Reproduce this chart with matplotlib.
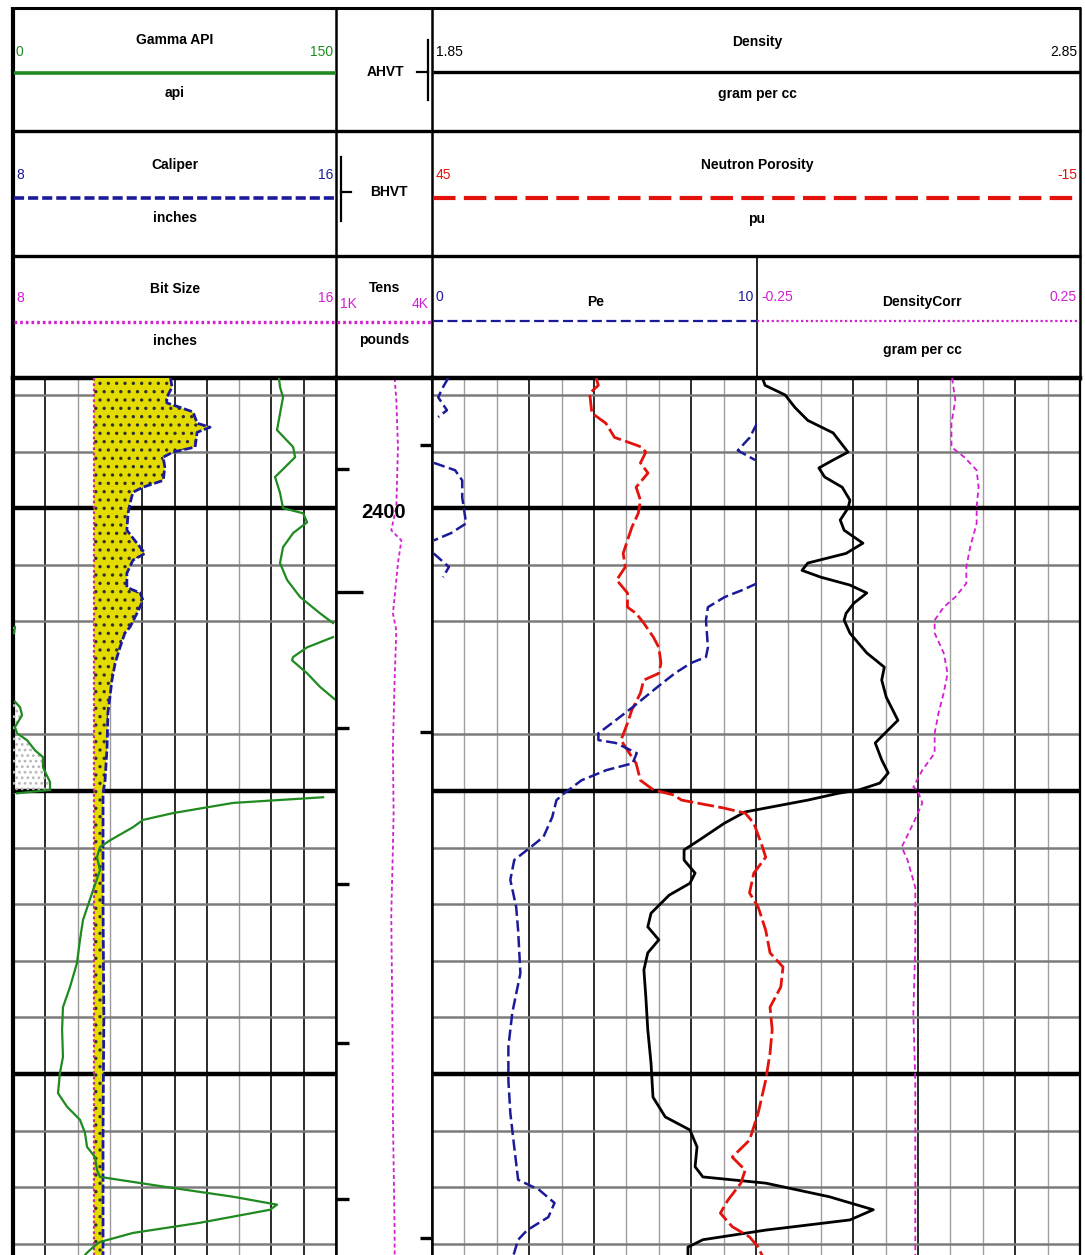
import numpy as np
import matplotlib
matplotlib.use("Agg")
import matplotlib.pyplot as plt

plt.rcParams['font.family'] = ['Liberation Sans Narrow', 'Liberation Sans', 'DejaVu Sans']
plt.rcParams['hatch.linewidth'] = 1.2

# ---------------- data (depth in ft) ----------------
gr_depth = [2377.0, 2378.6, 2380.4, 2386.2, 2389.2, 2391.0, 2394.5, 2397.3, 2400.0, 2400.9,
            2402.5, 2404.4, 2406.9, 2409.7, 2412.7, 2415.7, 2418.6, 2420.3, 2421.0, 2422.1,
            2422.8, 2424.6, 2426.3, 2426.9, 2429.2, 2431.6, 2433.9, 2434.2, 2435.2, 2436.6,
            2438.7, 2439.8, 2441.0, 2442.8, 2444.0, 2445.8, 2448.4, 2449.8, 2450.4, 2451.1,
            2452.1, 2453.9, 2455.1, 2456.4, 2458.7, 2459.9, 2461.7, 2464.0, 2467.5, 2472.8,
            2476.3, 2480.4, 2484.6, 2488.2, 2492.2, 2497.0, 2499.8, 2503.4, 2505.8, 2508.1,
            2510.4, 2512.9, 2514.7, 2517.0, 2518.2, 2520.0, 2521.7, 2523.1, 2524.0, 2526.3,
            2528.1, 2529.7, 2530.6, 2531.6, 2532.2]
gr_api = [123.5, 124.0, 125.4, 122.6, 130.1, 131.0, 121.7, 124.0, 125.4, 134.7,
          136.6, 130.1, 125.4, 124.0, 127.3, 133.3, 142.6, 148.6, 150.9, 150.5,
          148.6, 136.6, 130.1, 129.6, 136.6, 142.6, 149.8, 150.9, 153.3, 154.2,
          150.9, 151.9, 156.5, 160.2, 163.9, 163.9, 167.2, 167.2, 151.9, 144.0,
          102.2, 74.3, 60.4, 55.7, 45.1, 40.4, 39.0, 40.4, 37.2, 32.5,
          31.1, 29.7, 26.5, 23.2, 22.8, 23.2, 21.8, 20.9, 25.1, 31.1,
          33.4, 34.4, 38.1, 39.0, 40.4, 71.5, 102.2, 122.6, 119.4, 86.9,
          55.7, 40.4, 37.2, 34.4, 33.0]

cal_depth = [2377.0, 2378.6, 2380.4, 2381.4, 2382.2, 2383.0, 2385.0, 2385.7, 2386.6, 2389.2,
             2390.1, 2391.0, 2392.8, 2395.1, 2396.3, 2397.2, 2399.1, 2400.9, 2403.9, 2406.2,
             2408.0, 2409.2, 2411.5, 2414.0, 2415.0, 2416.3, 2418.6, 2421.0, 2422.1, 2424.6,
             2427.4, 2430.4, 2433.4, 2436.2, 2442.2, 2448.1, 2450.4, 2470.0, 2490.0, 2510.0,
             2532.2]
cal_in = [11.90, 11.94, 11.81, 11.81, 12.14, 12.46, 12.56, 12.88, 12.56, 12.51,
          11.96, 11.72, 11.76, 11.72, 11.22, 10.97, 10.90, 10.85, 10.82, 11.07,
          11.27, 10.97, 10.82, 10.82, 11.15, 11.22, 11.07, 10.90, 10.77, 10.65,
          10.53, 10.45, 10.40, 10.35, 10.33, 10.28, 10.23, 10.23, 10.25, 10.23,
          10.23]

bit_depth = [2377.0, 2532.2]
bit_in = [10.0, 10.0]

tens_depth = [2377.0, 2380.9, 2389.2, 2399.8, 2403.9, 2405.7, 2409.7, 2415.7, 2418.6, 2421.6,
              2430.4, 2442.2, 2453.9, 2460.1, 2471.9, 2489.6, 2507.2, 2527.9, 2532.2]
tens_lb = [2832, 2885, 2936, 2885, 2727, 3043, 2936, 2832, 2778, 2885,
           2832, 2778, 2800, 2778, 2727, 2760, 2778, 2832, 2832]

rhob_depth = [2377.0, 2378.3, 2380.0, 2382.2, 2384.5, 2386.7, 2390.1, 2391.5, 2392.9, 2394.5,
              2396.3, 2398.6, 2400.0, 2402.1, 2403.9, 2406.2, 2408.0, 2409.7, 2411.0, 2412.2,
              2413.6, 2415.0, 2416.8, 2418.6, 2419.8, 2422.1, 2425.6, 2428.1, 2430.4, 2433.4,
              2437.5, 2439.2, 2441.5, 2444.5, 2446.8, 2448.6, 2449.8, 2450.4, 2451.6, 2453.7,
              2455.7, 2458.7, 2460.4, 2462.2, 2464.5, 2466.3, 2468.4, 2471.6, 2474.0, 2476.3,
              2478.6, 2481.6, 2486.4, 2492.2, 2498.1, 2504.1, 2507.6, 2509.9, 2512.9, 2516.4,
              2518.2, 2519.3, 2521.7, 2524.0, 2525.8, 2527.6, 2529.3, 2530.6, 2532.2]
rhob_gcc = [2.360, 2.364, 2.395, 2.410, 2.430, 2.469, 2.492, 2.469, 2.447, 2.456,
            2.483, 2.495, 2.492, 2.480, 2.486, 2.515, 2.489, 2.430, 2.421, 2.450,
            2.495, 2.521, 2.501, 2.489, 2.486, 2.495, 2.521, 2.548, 2.544, 2.551,
            2.569, 2.554, 2.534, 2.544, 2.554, 2.541, 2.509, 2.477, 2.430, 2.333,
            2.301, 2.262, 2.239, 2.239, 2.256, 2.248, 2.216, 2.188, 2.183, 2.200,
            2.183, 2.177, 2.180, 2.183, 2.188, 2.191, 2.210, 2.248, 2.259, 2.256,
            2.268, 2.365, 2.463, 2.531, 2.495, 2.365, 2.268, 2.245, 2.245]

nphi_depth = [2377.0, 2378.3, 2379.7, 2383.2, 2385.0, 2387.5, 2388.3, 2389.2, 2390.1, 2392.0,
              2393.8, 2396.3, 2398.6, 2400.9, 2403.4, 2405.7, 2408.0, 2410.4, 2412.7, 2415.0,
              2417.5, 2418.6, 2420.3, 2422.8, 2424.6, 2427.4, 2429.2, 2430.4, 2432.7, 2435.7,
              2438.0, 2441.0, 2442.8, 2445.1, 2448.1, 2449.8, 2450.7, 2451.6, 2453.0, 2453.9,
              2455.7, 2459.9, 2461.7, 2464.5, 2468.0, 2470.5, 2474.6, 2478.6, 2481.1, 2484.6,
              2488.2, 2492.2, 2496.3, 2501.1, 2506.9, 2511.7, 2514.7, 2517.0, 2519.3, 2522.3,
              2524.6, 2527.0, 2528.8, 2530.6, 2532.2]
nphi_pu = [29.8, 29.6, 30.4, 30.2, 28.9, 28.1, 26.9, 25.6, 25.2, 25.7,
           25.0, 26.1, 25.7, 25.9, 26.5, 26.9, 27.3, 27.1, 27.9, 26.9,
           26.9, 26.1, 25.4, 24.5, 24.0, 23.8, 24.0, 25.4, 25.7, 26.5,
           26.9, 27.5, 26.9, 26.1, 25.7, 24.5, 22.6, 21.9, 18.0, 16.0,
           15.2, 14.4, 14.1, 15.2, 15.6, 14.8, 14.1, 13.7, 12.5, 12.7,
           13.7, 13.5, 13.7, 14.1, 14.8, 15.6, 17.2, 16.0, 16.4, 17.6,
           18.3, 17.2, 15.6, 14.8, 14.4]

pe_depth = [2377.0, 2378.6, 2380.4, 2382.7, 2383.9, 2385.0, 2387.5, 2389.8, 2391.5, 2392.0,
            2393.3, 2395.1, 2398.1, 2402.7, 2404.4, 2405.7, 2406.5, 2408.0, 2410.4, 2412.2,
            2413.3, 2414.5, 2415.7, 2417.5, 2419.8, 2424.6, 2426.3, 2427.4, 2429.2, 2431.6,
            2435.2, 2437.5, 2439.8, 2441.0, 2441.5, 2443.3, 2445.1, 2446.3, 2448.1, 2450.4,
            2451.6, 2454.6, 2458.1, 2460.4, 2462.2, 2465.7, 2470.5, 2474.6, 2482.2, 2489.2,
            2495.2, 2501.1, 2506.9, 2512.9, 2518.7, 2520.5, 2522.8, 2525.3, 2527.6, 2529.3,
            2531.6, 2532.2]
pe_val = [10.50, 10.34, 10.19, 10.46, 10.19, 10.00, 9.78, 9.41, 9.94, 10.06,
          10.71, 10.93, 10.93, 11.05, 10.59, 10.06, 9.95, 10.05, 10.52, 10.34,
          10.00, 9.54, 9.01, 8.49, 8.43, 8.49, 8.43, 7.96, 7.47, 6.94,
          6.17, 5.65, 5.12, 5.12, 5.65, 6.30, 6.17, 5.37, 4.60, 4.07,
          3.83, 3.70, 3.43, 2.93, 2.53, 2.41, 2.59, 2.65, 2.72, 2.47,
          2.35, 2.35, 2.41, 2.53, 2.65, 3.30, 3.77, 3.58, 2.93, 2.65,
          2.53, 2.50]

drho_depth = [2377.0, 2378.6, 2380.9, 2385.0, 2389.2, 2391.0, 2393.3, 2396.3, 2399.8, 2402.7,
              2406.9, 2410.4, 2413.3, 2415.7, 2417.5, 2419.8, 2422.1, 2425.6, 2429.2, 2432.7,
              2436.2, 2439.8, 2443.3, 2446.3, 2449.3, 2449.8, 2452.1, 2455.7, 2459.9, 2462.2,
              2467.0, 2477.6, 2489.2, 2501.1, 2512.9, 2524.6, 2532.2]
drho_gcc = [0.052, 0.054, 0.057, 0.051, 0.051, 0.071, 0.090, 0.093, 0.090, 0.090,
            0.080, 0.074, 0.074, 0.057, 0.039, 0.025, 0.025, 0.039, 0.045, 0.039,
            0.031, 0.025, 0.025, 0.006, -0.008, -0.002, 0.006, -0.008, -0.026, -0.017,
            -0.005, -0.005, -0.008, -0.005, -0.005, -0.005, -0.005]

bhvt_depths = [2393.1, 2414.8, 2438.9, 2466.4, 2494.5, 2522.1]
ahvt_depths = [2388.9, 2439.6, 2529.0]
depth_label = 2400
thick_grid = [2400, 2450, 2500]
thin_grid = [2380, 2390, 2410, 2420, 2440, 2460, 2470, 2480, 2490, 2510, 2520, 2530]

TOP_D, BOT_D = 2377.0, 2532.0

# ---------------- styling ----------------
GREEN = '#1f8a1f'
BLUE = '#1b1b9a'
RED = '#e3120b'
MAG = '#d21fd2'
YELLOW = '#e4dc00'

W, H = 1085, 1255
fig = plt.figure(figsize=(W / 100, H / 100), dpi=100)


def axes_px(x0, y0, x1, y1, **kw):
    return fig.add_axes([x0 / W, 1 - y1 / H, (x1 - x0) / W, (y1 - y0) / H], **kw)


# ---------------- header ----------------
axh = axes_px(0, 0, W, 380)
axh.set_xlim(0, W)
axh.set_ylim(380, 0)
axh.axis('off')

k = dict(color='black', solid_capstyle='butt', clip_on=False)
axh.plot([12, 1081], [8, 8], lw=2.2, **k)
for yy in (131, 256):
    axh.plot([12, 1081], [yy, yy], lw=2.4, **k)
axh.plot([13, 13], [7, 380], lw=3.0, **k)
axh.plot([336, 336], [8, 380], lw=1.8, **k)
axh.plot([432, 432], [8, 380], lw=1.8, **k)
axh.plot([1080, 1080], [8, 380], lw=1.8, **k)
axh.plot([757, 757], [256, 380], lw=1.2, **k)

FS_T = 10
FS_N = 10


def ht(x, y, s, color='black', ha='center', fs=FS_T, weight='bold'):
    axh.text(x, y, s, color=color, ha=ha, va='center', fontsize=fs, fontweight=weight)


def hn(x, y, s, color, ha):
    ht(x, y, s, color, ha, FS_N, 'normal')


# Track 1 header
ht(175, 40, 'Gamma API')
hn(16, 52, '0', GREEN, 'left')
hn(333, 52, '150', GREEN, 'right')
axh.plot([14, 336], [73, 73], color=GREEN, lw=2.6, solid_capstyle='butt')
ht(175, 93, 'api')

ht(175, 165, 'Caliper')
hn(16, 175, '8', BLUE, 'left')
hn(333, 175, '16', BLUE, 'right')
axh.plot([14, 336], [198, 198], color=BLUE, lw=2.6, dashes=(2.8, 1.1))
ht(175, 218, 'inches')

ht(175, 289, 'Bit Size')
hn(16, 298, '8', MAG, 'left')
hn(333, 298, '16', MAG, 'right')
axh.plot([14, 336], [322, 322], color=MAG, lw=2.4, dashes=(0.8, 0.9))
ht(175, 341, 'inches')

# Depth header
ht(385, 72, 'AHVT')
axh.plot([417, 428], [72, 72], color='black', lw=1.6)
axh.plot([428, 428], [40, 100], color='black', lw=1.6)
ht(389, 192, 'BHVT')
axh.plot([341, 341], [157, 221], color='black', lw=1.6)
axh.plot([341, 351], [192, 192], color='black', lw=1.6)
ht(385, 288, 'Tens')
hn(340, 304, '1K', MAG, 'left')
hn(429, 304, '4K', MAG, 'right')
axh.plot([337, 432], [322, 322], color=MAG, lw=2.4, dashes=(0.8, 0.9))
ht(384, 340, 'pounds')

# Track 2/3 header
ht(757, 42, 'Density')
hn(436, 52, '1.85', 'black', 'left')
hn(1077, 52, '2.85', 'black', 'right')
axh.plot([433, 1080], [72, 72], color='black', lw=2.4, solid_capstyle='butt')
ht(757, 94, 'gram per cc')

ht(757, 165, 'Neutron Porosity')
hn(436, 175, '45', RED, 'left')
hn(1077, 175, '-15', RED, 'right')
axh.plot([433, 1080], [198, 198], color=RED, lw=3.0, dashes=(5.4, 2.0))
ht(757, 219, 'pu')

ht(596, 302, 'Pe')
hn(436, 297, '0', BLUE, 'left')
hn(753, 297, '10', BLUE, 'right')
axh.plot([433, 757], [321, 321], color=BLUE, lw=1.6, dashes=(4.5, 2.0))
ht(922, 302, 'DensityCorr')
hn(761, 297, '-0.25', MAG, 'left')
hn(1077, 297, '0.25', MAG, 'right')
axh.plot([757, 1080], [321, 321], color=MAG, lw=1.6, dashes=(1.0, 1.2))
ht(922, 350, 'gram per cc')


# ---------------- data tracks ----------------
def style_track(ax, lw_left=1.8, lw_right=1.8):
    ax.set_ylim(BOT_D, TOP_D)
    ax.set_xticks([])
    ax.set_yticks([])
    ax.spines['bottom'].set_visible(False)
    ax.spines['top'].set_linewidth(3.2)
    ax.spines['left'].set_linewidth(lw_left)
    ax.spines['right'].set_linewidth(lw_right)
    for s in ax.spines.values():
        s.set_zorder(10)


def hgrid(ax):
    for d in thin_grid:
        ax.axhline(d, color='#7c7c7c', lw=1.8, zorder=1)
    for d in thick_grid:
        ax.axhline(d, color='black', lw=3.2, zorder=2)


# Track 1
ax1 = axes_px(13, 378, 336, 1255)
ax1.set_xlim(0, 150)
style_track(ax1, lw_left=3.0, lw_right=1.8)
dark1 = {1, 4, 5, 6, 8, 9}
for i, xv in enumerate(np.linspace(0, 150, 11)[1:-1], start=1):
    ax1.axvline(xv, color='#1a1a1a' if i in dark1 else '#9a9a9a',
                lw=1.3 if i in dark1 else 1.0, zorder=1)
hgrid(ax1)

axc = ax1.twiny()
axc.set_xlim(8, 16)
axc.set_ylim(BOT_D, TOP_D)
axc.axis('off')
cal = np.array(cal_in)
bit_at_cal = np.interp(cal_depth, bit_depth, bit_in)
axc.fill_betweenx(cal_depth, bit_at_cal, cal, where=cal >= bit_at_cal,
                  facecolor=YELLOW, edgecolor='none', lw=0, zorder=3)
axc.fill_betweenx(cal_depth, bit_at_cal, cal, where=cal >= bit_at_cal,
                  facecolor='none', edgecolor='#303030', hatch='..', lw=0, zorder=4)
axc.plot(bit_in, bit_depth, color='#c0308a', lw=1.6, dashes=(1.2, 1.2), zorder=5)
axc.plot(cal_in, cal_depth, color=BLUE, lw=2.0, dashes=(3.0, 1.0), zorder=6)

axg = ax1.twiny()
axg.set_xlim(0, 150)
axg.set_ylim(BOT_D, TOP_D)
axg.axis('off')
gr = np.array(gr_api)
gr_main = np.where(gr <= 150, gr, np.nan)
gr_wrap = np.where(gr > 150, gr - 150, np.nan)
wmask = ~np.isnan(gr_wrap)
axg.fill_betweenx(gr_depth, 0, np.nan_to_num(gr_wrap), where=wmask,
                  facecolor='none', edgecolor='#b8b8b8', hatch='...', lw=0, zorder=3)
axg.plot(gr_main, gr_depth, color=GREEN, lw=1.6, zorder=7)
axg.plot(gr_wrap, gr_depth, color=GREEN, lw=1.6, zorder=7)

# Depth track
axd = axes_px(336, 378, 432, 1255)
axd.set_xlim(1000, 4000)
style_track(axd)
axd.plot(tens_lb, tens_depth, color=MAG, lw=1.3, dashes=(2.2, 1.6))
ytr = axd.get_yaxis_transform()
for i, d in enumerate(bhvt_depths):
    axd.plot([0, 0.28 if i == 1 else 0.14], [d, d], color='black', lw=2.4,
             transform=ytr, solid_capstyle='butt')
for d in ahvt_depths:
    axd.plot([0.87, 1.0], [d, d], color='black', lw=2.4, transform=ytr,
             solid_capstyle='butt')
axd.text(0.5, depth_label + 0.7, str(depth_label), transform=ytr, ha='center', va='center',
         fontsize=14.5, fontweight='bold')

# Track 2/3
ax2 = axes_px(432, 378, 1080, 1255)
ax2.set_xlim(1.85, 2.85)
style_track(ax2, lw_left=1.8, lw_right=1.6)
for i, xv in enumerate(np.linspace(1.85, 2.85, 21)[1:-1], start=1):
    dark = (i % 5 in (0, 3))
    ax2.axvline(xv, color='#1a1a1a' if dark else '#a0a0a0',
                lw=1.3 if dark else 1.0, zorder=1)
hgrid(ax2)
ax2.plot(rhob_gcc, rhob_depth, color='black', lw=2.0, zorder=6)

axn = ax2.twiny()
axn.set_xlim(45, -15)
axn.set_ylim(BOT_D, TOP_D)
axn.axis('off')
axn.plot(nphi_pu, nphi_depth, color=RED, lw=2.0, dashes=(6.0, 1.6))

axpe = axes_px(432, 378, 757, 1255)
axpe.set_xlim(0, 10)
axpe.set_ylim(BOT_D, TOP_D)
axpe.axis('off')
pe = np.array(pe_val)
axpe.plot(np.where(pe <= 10, pe, np.nan), pe_depth, color=BLUE, lw=1.8, dashes=(4.5, 1.8))
axpe.plot(np.where(pe > 10, pe - 10, np.nan), pe_depth, color=BLUE, lw=1.8, dashes=(4.5, 1.8))

axdc = axes_px(757, 378, 1080, 1255)
axdc.set_xlim(-0.25, 0.25)
axdc.set_ylim(BOT_D, TOP_D)
axdc.axis('off')
axdc.plot(drho_gcc, drho_depth, color=MAG, lw=1.3, dashes=(3.0, 2.0))

fig.savefig('out.png', dpi=100)
